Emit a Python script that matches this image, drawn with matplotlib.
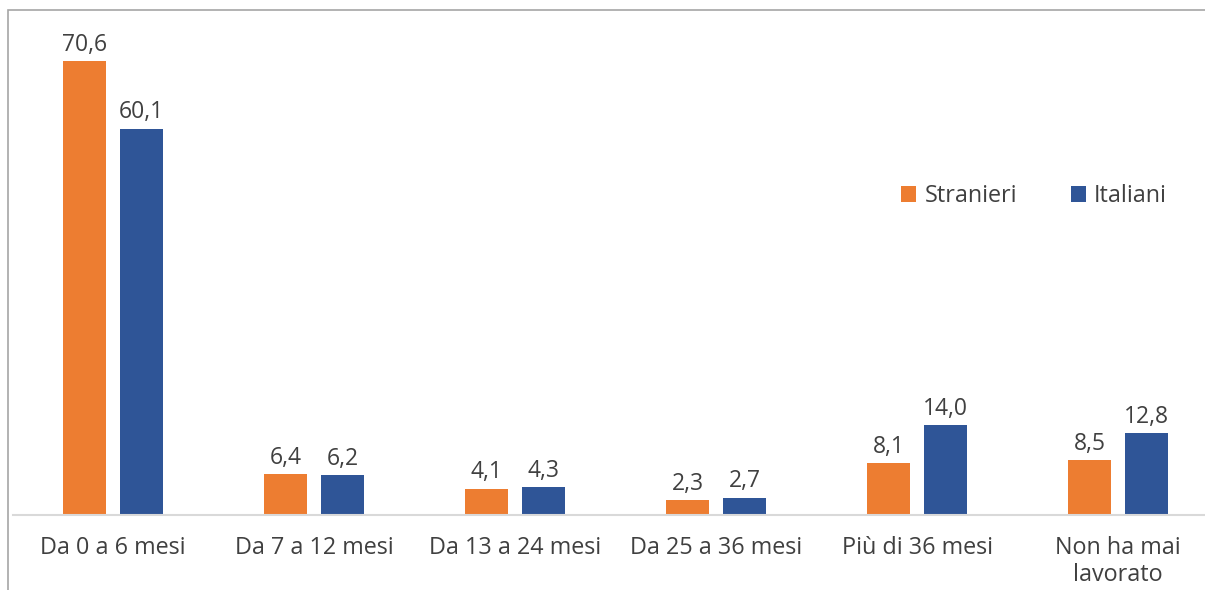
import numpy as np
import matplotlib.pyplot as plt
from matplotlib.patches import Rectangle

# ------------------------------
# Data
# ------------------------------
categories = ["Da 0 a 6 mesi", "Da 7 a 12 mesi", "Da 13 a 24 mesi",
              "Da 25 a 36 mesi", "Più di 36 mesi", "Non ha mai\nlavorato"]
stranieri = [70.6, 6.4, 4.1, 2.3, 8.1, 8.5]
italiani = [60.1, 6.2, 4.3, 2.7, 14.0, 12.8]

orange = "#ED7D31"
blue = "#2F5597"
text_col = "#404040"

plt.rcParams['font.family'] = ['Open Sans', 'DejaVu Sans']

W, H = 1205, 590
fig = plt.figure(figsize=(W/100, H/100), dpi=100)

# axes in pixel terms: category width 201 px, first centre at x=113
x0 = 113 - 100.5
ax = fig.add_axes([x0/W, (H-515)/H, 6*201/W, 80*6.43/H])

x = np.arange(len(categories))
bw = 0.215
off = 0.142
b1 = ax.bar(x - off, stranieri, bw, color=orange, label="Stranieri")
b2 = ax.bar(x + off, italiani, bw, color=blue, label="Italiani")

for bars in (b1, b2):
    for r in bars:
        v = r.get_height()
        ax.annotate(f"{v:.1f}".replace(".", ","),
                    (r.get_x() + r.get_width()/2, v),
                    xytext=(0, 3), textcoords="offset points",
                    ha="center", va="bottom", fontsize=16.5, color=text_col)

ax.set_xlim(-0.5, len(categories) - 0.5)
ax.set_ylim(0, 80)
ax.set_xticks(x)
ax.set_xticklabels(categories, fontsize=16.8, color=text_col,
                   linespacing=1.2)
ax.tick_params(axis="x", length=0, pad=15)
ax.set_yticks([])
for s in ["top", "right", "left"]:
    ax.spines[s].set_visible(False)
ax.spines["bottom"].set_color("#D9D9D9")
ax.spines["bottom"].set_linewidth(1.5)

leg = ax.legend(loc="center left", bbox_to_anchor=((880 - x0)/(6*201), (515-196)/(80*6.43)),
                ncol=2, frameon=False, fontsize=16.8, handlelength=0.65,
                handleheight=0.65, handletextpad=0.35, columnspacing=2.3,
                labelcolor=text_col)

# outer chart frame (cropped on the right and bottom)
fig.patches.append(Rectangle((8/W, -0.1), 1.2, (H-10)/H + 0.1,
                             transform=fig.transFigure, fill=False,
                             edgecolor="#A6A6A6", linewidth=1.2))

fig.savefig("out.png", dpi=100)
